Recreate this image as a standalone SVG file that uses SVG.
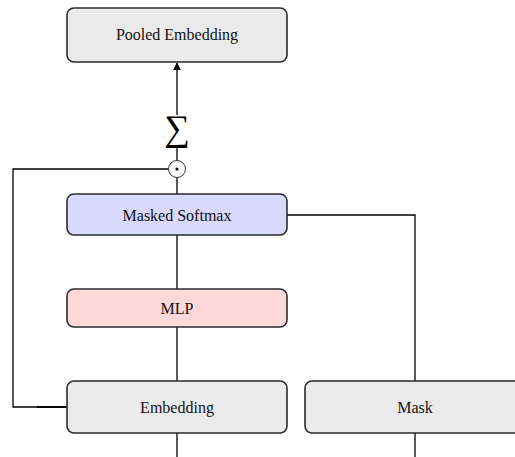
<svg xmlns="http://www.w3.org/2000/svg" width="515" height="457" viewBox="0 0 515 457">
<style>
.box{stroke:#2b2b2b;stroke-width:1.6}
.gray{fill:#ebebeb}
.blue{fill:#d9d9ff}
.red{fill:#ffd9d9}
.lbl{font-family:"Liberation Serif","Times New Roman",serif;font-size:16px;fill:#111;text-anchor:middle}
.wire{stroke:#000;stroke-width:1.3;fill:none}
</style>
<defs>
<marker id="ah" viewBox="0 0 10 10" refX="9" refY="5" markerWidth="8" markerHeight="8" markerUnits="userSpaceOnUse" orient="auto">
<path d="M0,0 L10,5 L0,10 Z" fill="#000"/>
</marker>
</defs>
<g id="connectors">
<line class="wire" x1="177" y1="115" x2="177" y2="63" marker-end="url(#ah)"/>
<line class="wire" x1="177" y1="146" x2="177" y2="160"/>
<line class="wire" x1="177" y1="178" x2="177" y2="194"/>
<line class="wire" x1="177" y1="235" x2="177" y2="289"/>
<line class="wire" x1="177" y1="327" x2="177" y2="381"/>
<line class="wire" x1="177" y1="433" x2="177" y2="457"/>
<line class="wire" x1="415" y1="433" x2="415" y2="457"/>
<polyline class="wire" points="168.5,169 13,169 13,407 67,407"/>
<line class="wire" x1="37" y1="407" x2="67" y2="407" style="stroke-width:1.8"/>
<polyline class="wire" points="287,215 415,215 415,381"/>
</g>
<g id="sum">
<text x="177" y="140" style="font-family:'Liberation Serif','DejaVu Serif',serif;font-size:36px;font-weight:300;text-anchor:middle;fill:#000">∑</text>
</g>
<g id="hadamard">
<circle cx="177" cy="169" r="8.5" fill="#fff" stroke="#333" stroke-width="1"/>
<circle cx="177" cy="169" r="1.6" fill="#000"/>
</g>
<g id="pooled">
<rect class="box gray" x="67" y="8" width="220" height="54" rx="7"/>
<text class="lbl" x="177" y="40">Pooled Embedding</text>
</g>
<g id="softmax">
<rect class="box blue" x="67" y="194" width="220" height="41" rx="7"/>
<text class="lbl" x="177" y="221">Masked Softmax</text>
</g>
<g id="mlp">
<rect class="box red" x="67" y="289" width="220" height="38" rx="7"/>
<text class="lbl" x="177" y="314">MLP</text>
</g>
<g id="embedding">
<rect class="box gray" x="67" y="381" width="220" height="52" rx="7"/>
<text class="lbl" x="177" y="413">Embedding</text>
</g>
<g id="mask">
<rect class="box gray" x="305" y="381" width="220" height="52" rx="7"/>
<text class="lbl" x="415" y="413">Mask</text>
</g>
</svg>
